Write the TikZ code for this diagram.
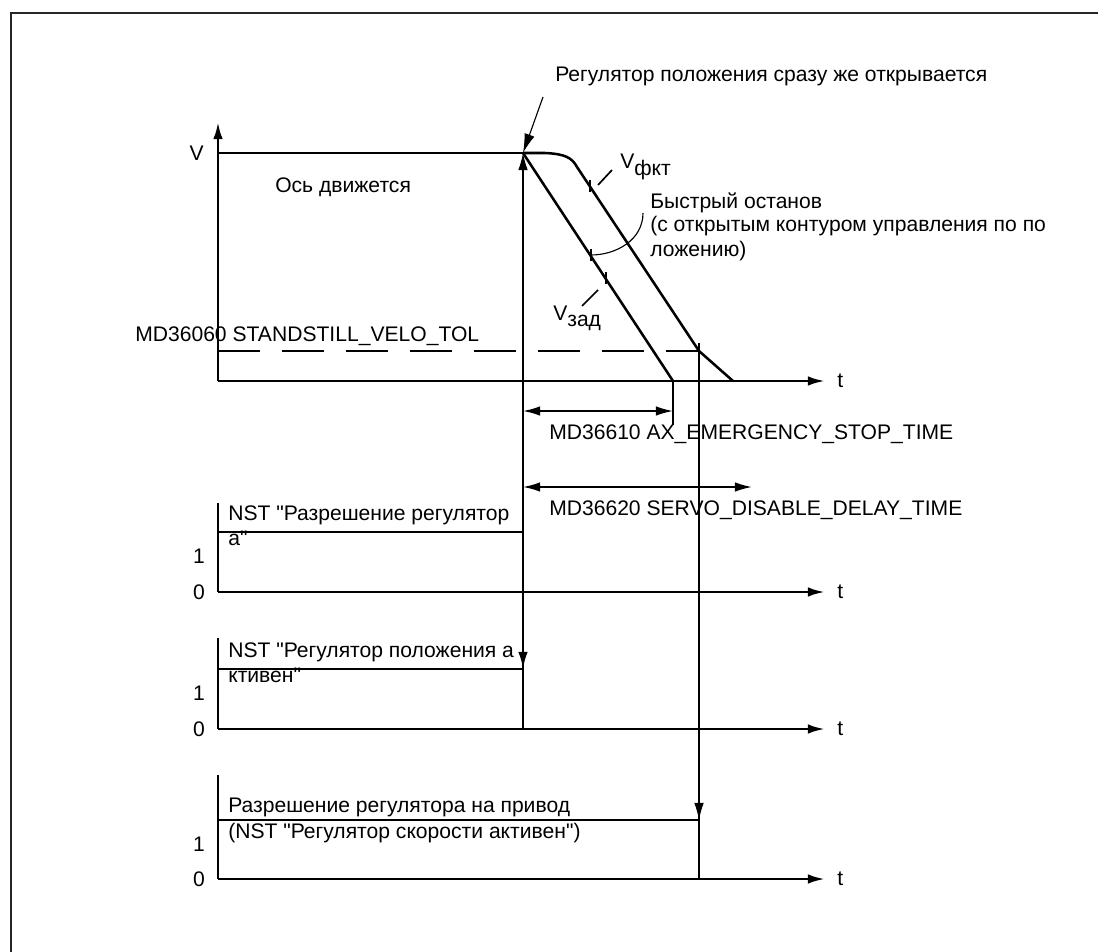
\documentclass[tikz,border=0pt]{standalone}
\usepackage{fontspec}
\newfontfamily\labelfont{Liberation Sans}
\usetikzlibrary{positioning, arrows.meta, calc}

\begin{document}
\begin{tikzpicture}[
    x=0.025cm, y=-0.025cm,
    >={Latex[length=4.3mm, width=2.4mm]},
    axisline/.style={line width=1.9pt},
    taxis/.style={line width=1.9pt, ->},
    sig/.style={line width=1.8pt},
    ref/.style={line width=0.8pt},
    dimarr/.style={line width=1.2pt, <->},
    tol/.style={line width=1.8pt, dash pattern=on 1.05cm off 0.55cm},
    lbl/.style={font=\labelfont\fontsize{15pt}{18pt}\selectfont, inner sep=0pt},
    txt/.style={lbl, anchor=base west},
]

\useasboundingbox (0,0) rectangle (1098,952);
\draw[line width=2pt, black!85] (11,952) -- (11,13) -- (1098,13);

% ══════════════════════════════════════
%  TOP: speed over time
% ══════════════════════════════════════

\coordinate (O) at (218,381);
\coordinate (vtop) at (218,122);
\coordinate (tend) at (825,381);
\coordinate (vlev) at (218,153);
\coordinate (stop) at (523,153);
\coordinate (setend) at (673,381);
\coordinate (setfoot) at (673,425);
\coordinate (flat) at (545,153);
\coordinate (bend) at (577,167);
\coordinate (actcross) at (699,351);
\coordinate (actend) at (733,381);
\coordinate (tolL) at (218,351);

% axes
\draw[axisline, ->] (O) -- (vtop);
\draw[taxis] (O) -- (tend);
\node[lbl, left=0.35cm of vlev] {V};
\node[lbl, right=0.3cm of tend] {t};

% curves
\draw[sig] (vlev) -- (stop);
\draw[tol] (tolL) -- (actcross);
\draw[sig] (stop) -- (setend);
\draw[sig] (stop) -- (flat) .. controls (566,154) and (572,158) .. (bend)
    -- (actcross) -- (actend);

\node[txt] at (275,192) {Ось движется};
\node[txt] at (135,341) {MD36060 STANDSTILL\_VELO\_TOL};

% position controller opens
\node[txt] (title) at (555,82) {Регулятор положения сразу же открывается};
\coordinate (ptr) at (543,97);
\draw[ref, -{Latex[length=4.8mm, width=2.6mm]}] (ptr) -- (stop);

% actual / set speed marks
\coordinate (actmark) at (590,186);
\coordinate (setmark) at (606,278);
\coordinate (arcend) at (591,255);
\draw[ref] ([yshift=0.14cm]actmark) -- ([yshift=-0.14cm]actmark);
\draw[ref] ([yshift=0.14cm]setmark) -- ([yshift=-0.14cm]setmark);
\draw[ref] ([yshift=0.14cm]arcend) -- ([yshift=-0.14cm]arcend);

\node[txt] (vact) at (620,169) {V\raisebox{-0.55ex}{фкт}};
\draw[line width=1.2pt] (598,185) -- (612,170);
\node[txt] (vset) at (553,320) {V\raisebox{-0.55ex}{зад}};
\draw[line width=1.2pt] (582,306) -- (598,290);

\node[txt] (fast) at (650,208) {Быстрый останов};
\node[txt] at (650,232) {(с открытым контуром управления по по};
\node[txt] at (650,257) {ложению)};
\draw[ref] (643,213) .. controls (643,240) and (616,255) .. (arcend);

% ══════════════════════════════════════
%  TIMES
% ══════════════════════════════════════

\coordinate (d1L) at (523,411);
\coordinate (d1R) at (673,411);
\coordinate (d2L) at (523,487);
\coordinate (d2R) at (752,487);

\draw[ref] (setend) -- (setfoot);
\draw[dimarr] (d1L) -- (d1R);
\draw[dimarr] (d2L) -- (d2R);
\node[txt] at (549,439) {MD36610 AX\_EMERGENCY\_STOP\_TIME};
\node[txt] at (549,515) {MD36620 SERVO\_DISABLE\_DELAY\_TIME};

% ══════════════════════════════════════
%  INTERFACE SIGNALS
% ══════════════════════════════════════

\foreach \n/\ytop/\ylev/\yzero in {1/503/532/592, 2/638/669/729, 3/775/820/879}{
  \coordinate (top\n) at (218,\ytop);
  \coordinate (lev\n) at (218,\ylev);
  \coordinate (zero\n) at (218,\yzero);
  \coordinate (tend\n) at (825,\yzero);
  \draw[axisline] (top\n) -- (zero\n);
  \draw[taxis] (zero\n) -- (tend\n);
  \node[lbl, right=0.3cm of tend\n] {t};
  \node[lbl] at (199,\yzero) {0};
  \node[lbl] at (199,{\ylev+24}) {1};
}

% reference lines
\draw[ref, ->] (stop |- zero2) -- (stop);
\draw[ref] ([yshift=0.2cm]actcross) -- (actcross |- zero3);

% controller enable
\draw[sig] (lev1) -- (stop |- lev1);
\draw[sig, ->] (stop |- lev1) -- (stop |- lev2);
\node[txt] at (228,520) {NST "Разрешение регулятор};
\node[txt] at (228,545) {а"};

% position controller active
\draw[sig] (lev2) -- (stop |- lev2);
\node[txt] at (228,657) {NST "Регулятор положения а};
\node[txt] at (228,682) {ктивен"};

% drive enable
\draw[sig] (lev3) -- (actcross |- lev3);
\draw[ref, ->] (actcross |- zero2) -- (actcross |- lev3);
\node[txt] at (228,812) {Разрешение регулятора на привод};
\node[txt] at (228,838) {(NST "Регулятор скорости активен")};

\end{tikzpicture}
\end{document}
